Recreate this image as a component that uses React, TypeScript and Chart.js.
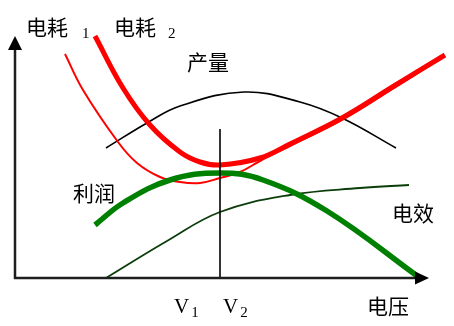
import React, { useEffect, useRef } from "react";
import { Chart, registerables } from "chart.js";

Chart.register(...registerables);

// Data units: x = voltage (arbitrary), y = value (arbitrary); origin at the axes' corner.
const power2X = [80, 108, 135, 165, 185, 205, 245, 275, 327, 379, 430];
const power2Y = [242, 190, 153, 126, 116, 113, 120, 134, 160, 192, 223];

const power1X = [50, 68, 103, 122, 145, 165, 185, 205, 225, 245, 275, 327, 379, 428];
const power1Y = [224, 188, 136, 115, 101, 96, 95, 100, 106, 117, 132, 158, 190, 221];

const outputX = [91, 132, 165, 229, 285, 327, 381];
const outputY = [130, 155, 172, 186, 176, 160, 130];

const profitX = [80, 108, 155, 205, 248, 312, 405];
const profitY = [53, 75, 98, 105, 98, 67, 0];

const efficiencyX = [91, 152, 205, 275, 345, 394];
const efficiencyY = [0, 37, 66, 83, 90, 93];

const v2X = [205, 205];
const v2Y = [0, 149];

const curveLabels = ["电耗", "电耗", "产量", "利润", "电效"];
const curveSubs = ["1", "2", "", "", ""];
const axisLabel = "电压";
const tickLabels = ["V", "V"];
const tickSubs = ["1", "2"];

const toPts = (xs: number[], ys: number[]) => xs.map((x, i) => ({ x, y: ys[i] }));

export default function App() {
  const ref = useRef<HTMLCanvasElement | null>(null);

  useEffect(() => {
    const canvas = ref.current;
    if (!canvas) return;

    const overlay = {
      id: "overlay",
      afterDatasetsDraw(chart: any) {
        const { ctx, scales } = chart;
        const sx = (v: number) => scales.x.getPixelForValue(v);
        const sy = (v: number) => scales.y.getPixelForValue(v);
        ctx.save();
        // axes
        ctx.strokeStyle = "#1e1e1e";
        ctx.fillStyle = "#000";
        ctx.lineWidth = 2.5;
        ctx.beginPath();
        ctx.moveTo(sx(0), sy(-1));
        ctx.lineTo(sx(0), sy(230));
        ctx.moveTo(sx(-1), sy(0));
        ctx.lineTo(sx(402), sy(0));
        ctx.stroke();
        ctx.beginPath();
        ctx.moveTo(sx(0), sy(242));
        ctx.lineTo(sx(-7), sy(228));
        ctx.lineTo(sx(7), sy(228));
        ctx.closePath();
        ctx.fill();
        ctx.beginPath();
        ctx.moveTo(sx(414), sy(0));
        ctx.lineTo(sx(400), sy(6.5));
        ctx.lineTo(sx(400), sy(-6.5));
        ctx.closePath();
        ctx.fill();

        // labels
        const cjk = "21px 'Noto Sans CJK SC'";
        const sub = "15px 'Liberation Serif'";
        ctx.fillStyle = "#000";
        ctx.textBaseline = "middle";
        ctx.textAlign = "left";
        const pos = [
          [11, 251, 67],
          [99, 251, 153],
          [172, 216, 0],
          [58, 85, 0],
          [377, 65, 0],
        ];
        curveLabels.forEach((t, i) => {
          ctx.font = cjk;
          ctx.fillText(t, sx(pos[i][0]), sy(pos[i][1]));
          if (curveSubs[i]) {
            ctx.font = sub;
            ctx.textBaseline = "alphabetic";
            ctx.fillText(curveSubs[i], sx(pos[i][2]), sy(240));
            ctx.textBaseline = "middle";
          }
        });
        ctx.font = cjk;
        ctx.fillText(axisLabel, sx(352), sy(-28));

        const tpos = [159, 208];
        tickLabels.forEach((t, i) => {
          ctx.font = "21px 'Liberation Serif'";
          ctx.textBaseline = "alphabetic";
          ctx.fillText(t, sx(tpos[i]), sy(-35));
          const w = ctx.measureText(t).width;
          ctx.font = sub;
          ctx.fillText(tickSubs[i], sx(tpos[i]) + w + 2, sy(-39));
        });
        ctx.restore();
      },
    };

    const line = (data: any, color: string, width: number, order: number) => ({
      data,
      borderColor: color,
      backgroundColor: color,
      borderWidth: width,
      pointRadius: 0,
      fill: false,
      tension: 0.4,
      order,
    });

    const chart = new Chart(canvas, {
      type: "line",
      data: {
        datasets: [
          line(toPts(outputX, outputY), "#000000", 1.6, 6),
          line(toPts(power1X, power1Y), "#ff0000", 2, 5),
          line(toPts(power2X, power2Y), "#ff0000", 5, 4),
          line(toPts(efficiencyX, efficiencyY), "#0b3d0b", 1.8, 3),
          line(toPts(profitX, profitY), "#008000", 5.5, 2),
          { ...line(toPts(v2X, v2Y), "#000000", 1.6, 1), tension: 0 },
        ],
      },
      options: {
        animation: false,
        responsive: false,
        layout: { padding: 0 },
        plugins: { legend: { display: false }, tooltip: { enabled: false } },
        scales: {
          x: { type: "linear", min: -15, max: 439, display: false },
          y: { type: "linear", min: -48, max: 278, display: false },
        },
      },
      plugins: [overlay],
    });
    return () => chart.destroy();
  }, []);

  return (
    <div style={{ position: "fixed", left: 0, top: 0, width: 454, height: 326, background: "#fff" }}>
      <canvas ref={ref} width={454} height={326} style={{ width: 454, height: 326 }} />
    </div>
  );
}
